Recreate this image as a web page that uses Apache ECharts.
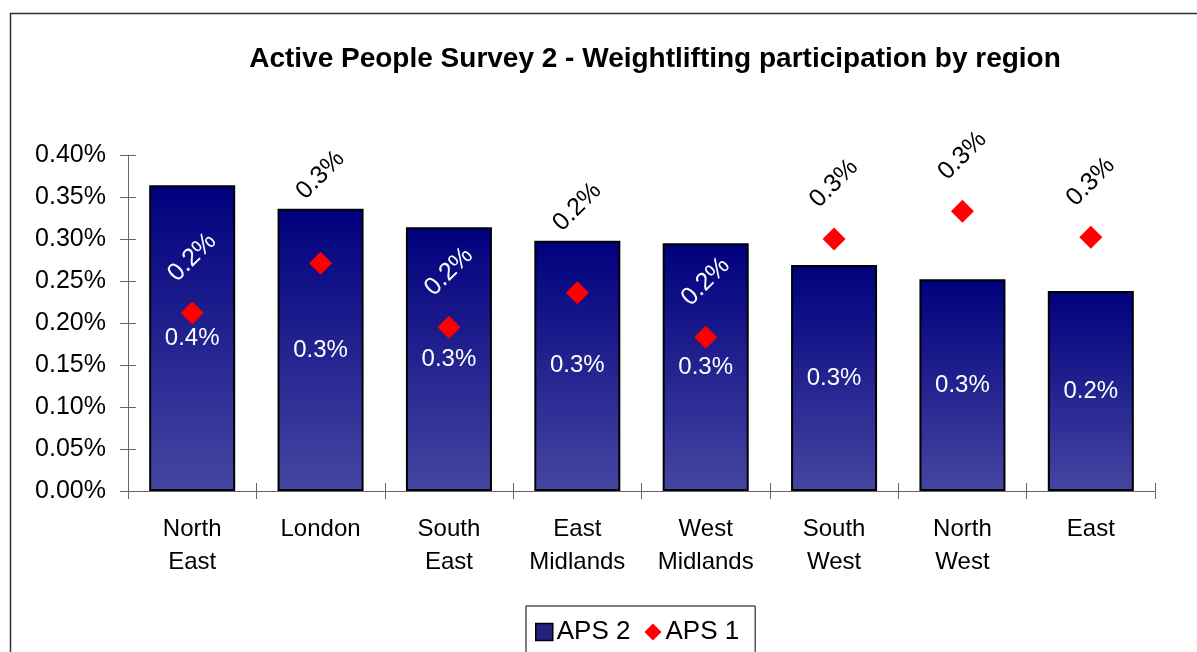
<!DOCTYPE html>
<html><head><meta charset="utf-8">
<script src="https://cdn.jsdelivr.net/npm/echarts@6/dist/echarts.min.js"></script>
<style>html,body{margin:0;padding:0;background:#fff}#c{width:1197px;height:652px}</style>
</head><body><div id="c"></div>
<script>
var categories = ["North East","London","South East","East Midlands","West Midlands","South West","North West","East"];
var aps2 = [0.364,0.336,0.314,0.298,0.295,0.269,0.252,0.238];
var aps1 = [0.212,0.271,0.195,0.236,0.183,0.300,0.333,0.302];
var yTicks = [0,0.05,0.10,0.15,0.20,0.25,0.30,0.35,0.40];

var FONT = '"Liberation Sans", Arial, sans-serif';
// label placement for APS 1 values (in value units): above marker, or above bar if it would hit the bar top
var labelData = aps1.map(function(v,i){
  var pos = v + 0.066, col = '#000';
  if (pos < aps2[i] - 0.03) { col = '#fff'; }
  else if (pos < aps2[i] + 0.04) { pos = aps2[i] + 0.04; }
  return {value:[i,pos], raw:v, label:{color:col}};
});

var chart = echarts.init(document.getElementById('c'));
chart.setOption({
  animation:false,
  backgroundColor:'#fff',
  title:{text:'Active People Survey 2 - Weightlifting participation by region',left:650,textAlign:'center',top:40,
    textStyle:{fontFamily:FONT,fontWeight:'bold',fontSize:28,color:'#000'}},
  legend:{top:606,left:526,itemGap:14,padding:[13,16,24,9],borderColor:'#000',borderWidth:1,
    itemWidth:17,itemHeight:17,textStyle:{fontFamily:FONT,fontSize:26,color:'#000',padding:[0,0,0,-1]},
    data:[{name:'APS 2',icon:'rect',itemStyle:{color:'#23237f',borderColor:'#000',borderWidth:1.5}},
          {name:'APS 1',icon:'diamond',itemStyle:{color:'#ff0000',opacity:1}}]},
  grid:{left:128,right:42,top:155,bottom:161},
  xAxis:[{type:'category',data:categories,
    axisLine:{lineStyle:{color:'#666',width:1}},
    axisTick:{show:true,length:8,lineStyle:{color:'#666'}},
    axisLabel:{fontFamily:FONT,fontSize:24,color:'#000',margin:22,lineHeight:33,
      formatter:function(s){return s.replace(' ','\n');}}},
    {type:'category',data:categories,position:'bottom',axisLine:{show:false},
     axisTick:{show:true,inside:true,length:8,lineStyle:{color:'#666'}},axisLabel:{show:false}}],
  yAxis:[{type:'value',min:0,max:0.4,interval:0.05,
    axisLine:{show:true,lineStyle:{color:'#666'}},
    axisTick:{show:true,length:8,lineStyle:{color:'#666'}},
    splitLine:{show:false},
    axisLabel:{fontFamily:FONT,fontSize:25,color:'#000',margin:22,
      formatter:function(v){return v.toFixed(2)+'%';}}},
    {type:'value',min:0,max:0.4,interval:0.05,position:'left',
     axisLine:{show:false},axisTick:{show:true,inside:true,length:8,lineStyle:{color:'#666'}},
     axisLabel:{show:false},splitLine:{show:false}}],
  series:[
    {name:'APS 2',type:'bar',data:aps2,barWidth:'67%',
     itemStyle:{borderColor:'#000',borderWidth:2,
       color:new echarts.graphic.LinearGradient(0,0,0,1,[{offset:0,color:'#00007e'},{offset:1,color:'#4546a1'}])},
     label:{show:true,position:'inside',color:'#fff',fontFamily:FONT,fontSize:24,
       formatter:function(p){return p.value.toFixed(1)+'%';}}},
    {name:'APS 1',type:'scatter',data:aps1,symbol:'diamond',symbolSize:23,
     itemStyle:{color:'#ff0000',opacity:1},z:5},
    {name:'labels',type:'scatter',data:labelData,symbol:'circle',symbolSize:0,
     itemStyle:{color:'#fff',opacity:1},z:6,
     label:{show:true,position:'inside',rotate:45,fontFamily:FONT,fontSize:25,opacity:1,
       formatter:function(p){return p.data.raw.toFixed(1)+'%';}}}
  ],
  graphic:[{type:'rect',shape:{x:10.5,y:13.5,width:1190,height:700},style:{fill:null,stroke:'#333',lineWidth:1.5},silent:true}]
});
</script></body></html>
